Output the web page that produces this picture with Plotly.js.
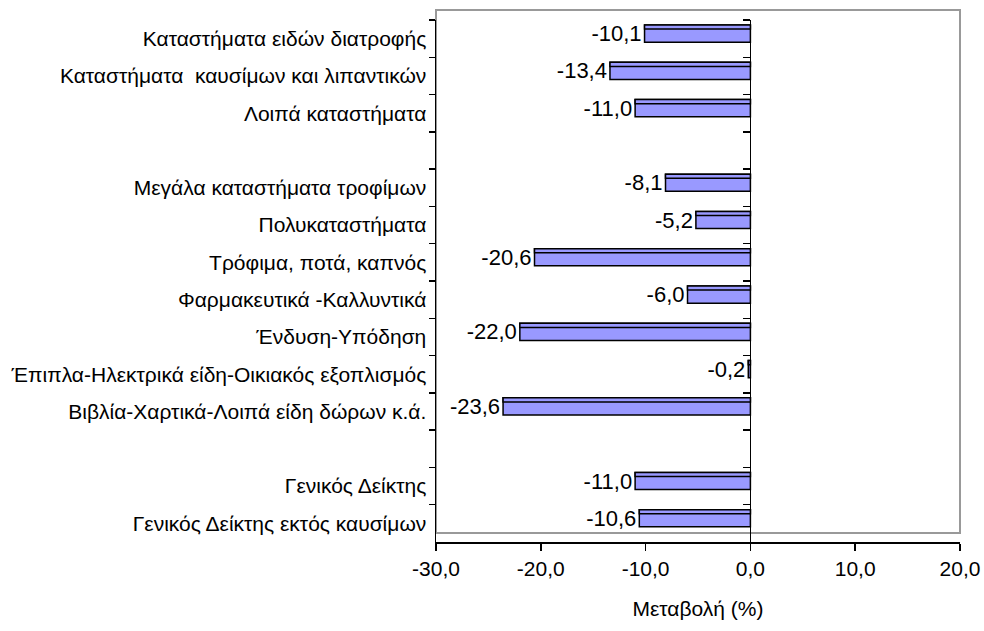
<!DOCTYPE html>
<html>
<head>
<meta charset="utf-8">
<script src="https://cdn.plot.ly/plotly-3.0.1.min.js"></script>
<style>html,body{margin:0;padding:0;background:#fff;}#chart{width:984px;height:631px;}</style>
</head>
<body>
<div id="chart"></div>
<script>
var categories = [
  "Καταστήματα ειδών διατροφής",
  "Καταστήματα  καυσίμων και λιπαντικών",
  "Λοιπά καταστήματα",
  " ",
  "Μεγάλα καταστήματα τροφίμων",
  "Πολυκαταστήματα",
  "Τρόφιμα, ποτά, καπνός",
  "Φαρμακευτικά -Καλλυντικά",
  "Ένδυση-Υπόδηση",
  "Έπιπλα-Ηλεκτρικά είδη-Οικιακός εξοπλισμός",
  "Βιβλία-Χαρτικά-Λοιπά είδη δώρων κ.ά.",
  "  ",
  "Γενικός Δείκτης",
  "Γενικός Δείκτης εκτός καυσίμων"
];
var values = [-10.1, -13.4, -11.0, null, -8.1, -5.2, -20.6, -6.0, -22.0, -0.2, -23.6, null, -11.0, -10.6];
var xTickVals = [-30, -20, -10, 0, 10, 20];
var xTickText = ["-30,0", "-20,0", "-10,0", "0,0", "10,0", "20,0"];

var labels = values.map(function(v){ return v === null ? "" : v.toFixed(1).replace(".", ","); });
var FONT = "Liberation Sans, Arial, sans-serif";

var mainBar = {
  type: "bar", orientation: "h", x: values, y: categories,
  width: 0.46, offset: -0.366,
  marker: {color: "#9999FF", line: {color: "#000", width: 1.5}},
  text: labels, textposition: "outside", constraintext: "none", cliponaxis: false,
  textfont: {family: FONT, size: 22, color: "#000"},
  hoverinfo: "skip", showlegend: false
};
var stripBar = {
  type: "bar", orientation: "h", x: values, y: categories,
  width: 0.11, offset: -0.366,
  marker: {color: "#9999FF", line: {color: "#000", width: 1.5}},
  hoverinfo: "skip", showlegend: false
};
var tickHelper = {
  type: "scatter", mode: "markers", x: values.map(function(){return 0;}), y: categories,
  yaxis: "y2", marker: {opacity: 0}, hoverinfo: "skip", showlegend: false
};

var layout = {
  width: 984, height: 631,
  margin: {l: 436, r: 24, t: 20, b: 89},
  paper_bgcolor: "#fff", plot_bgcolor: "rgba(0,0,0,0)",
  barmode: "overlay",
  font: {family: FONT, size: 21, color: "#000"},
  xaxis: {
    range: [-30, 20], tickmode: "array", tickvals: xTickVals, ticktext: xTickText,
    ticks: "outside", ticklen: 7, tickcolor: "#000", tickwidth: 1.5,
    showline: true, linecolor: "#000", linewidth: 1.5,
    showgrid: false, zeroline: true, zerolinecolor: "#000", zerolinewidth: 1.5,
    tickfont: {family: FONT, size: 21, color: "#000"},
    title: {text: "Μεταβολή (%)", font: {family: FONT, size: 21, color: "#000"}, standoff: 22}
  },
  yaxis: {
    type: "category", categoryorder: "array", categoryarray: categories,
    range: [13.5, -0.5], tickson: "boundaries",
    ticks: "outside", ticklen: 6, tickcolor: "#000", tickwidth: 1.5,
    ticklabelstandoff: 4,
    showline: true, linecolor: "#000", linewidth: 1.5,
    showgrid: false, zeroline: false,
    tickfont: {family: FONT, size: 21, color: "#000"}
  },
  yaxis2: {
    type: "category", categoryorder: "array", categoryarray: categories,
    range: [13.5, -0.5], tickson: "boundaries", overlaying: "y", anchor: "free", position: 0.6, side: "left",
    ticks: "outside", ticklen: 7, tickcolor: "#000", tickwidth: 1.5,
    showline: false, showgrid: false, zeroline: false, showticklabels: false
  },
  shapes: [{
    type: "rect", xref: "paper", yref: "paper", x0: 0, x1: 1, y0: 0.0172, y1: 1.0192,
    line: {color: "#999", width: 2}, fillcolor: "rgba(0,0,0,0)", layer: "below"
  }]
};

Plotly.newPlot("chart", [mainBar, stripBar, tickHelper], layout, {staticPlot: true, displayModeBar: false});
</script>
</body>
</html>
